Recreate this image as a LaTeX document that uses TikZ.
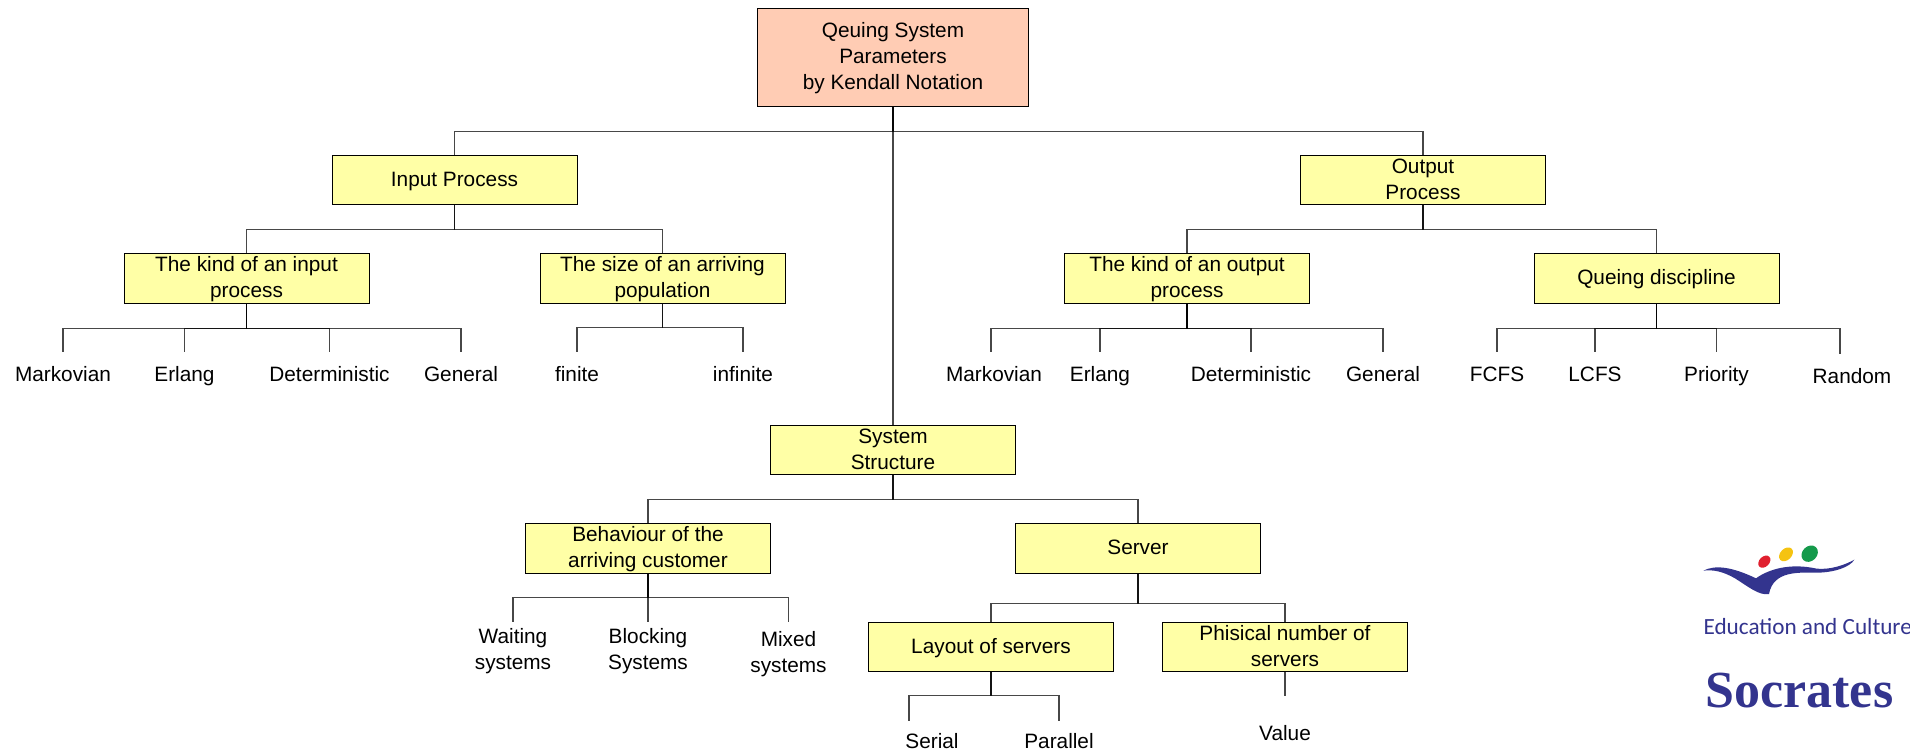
\documentclass[tikz,border=0pt]{standalone}
\usepackage{fontspec}
\setmainfont{Liberation Sans}
\newfontfamily\logofont{Carlito}
\newfontfamily\socratesfont{Liberation Serif}
\definecolor{boxyellow}{RGB}{255,255,166}
\definecolor{boxsalmon}{RGB}{255,204,180}
\definecolor{logoblue}{RGB}{51,52,142}
\definecolor{logored}{RGB}{224,32,47}
\definecolor{logoyellow}{RGB}{245,195,17}
\definecolor{logogreen}{RGB}{21,154,75}
\newcommand{\boxstrut}{\rule[-4pt]{0pt}{17.3pt}}
\tikzset{every picture/.style={line width=0.75pt},
	textfont/.style={font=\fontsize{15.6}{19.5}\selectfont},
	parbox/.style={textfont,draw=black,fill=boxyellow,inner sep=0pt,align=center,minimum width=183.75pt,minimum height=36.9pt},
	rootbox/.style={parbox,fill=boxsalmon,minimum width=202.9pt,minimum height=74.2pt},
	leaf/.style={textfont,anchor=north,inner xsep=0pt,inner ysep=10.4pt,text height=11.2pt,text depth=3.3pt},
	leaftwo/.style={textfont,anchor=north,inner xsep=0pt,inner ysep=4.5pt,align=center},
	link/.style={draw=black,line width=0.85pt,opacity=0.72}}

\begin{document}
\begin{tikzpicture}[x=0.75pt,y=0.75pt,yscale=-1,xscale=1]
	\useasboundingbox (0,0) rectangle (1910,752);

	% Boxes
	\node [rootbox] (root) at (893,57.5) {Qeuing System\boxstrut\\Parameters\\by Kendall Notation\boxstrut};
	\node [parbox] (input) at (454.5,180) {\boxstrut Input Process};
	\node [parbox] (output) at (1423,180) {\boxstrut Output\\Process\boxstrut};
	\node [parbox] (system) at (893,450) {\boxstrut System\\Structure\boxstrut};
	\node [parbox] (kindin) at (246.5,278.5) {\boxstrut The kind of an input\\process\boxstrut};
	\node [parbox] (sizein) at (662.5,278.5) {\boxstrut The size of an arriving\\population\boxstrut};
	\node [parbox] (kindout) at (1187,278.5) {\boxstrut The kind of an output\\process\boxstrut};
	\node [parbox] (queing) at (1656.5,278.5) {\boxstrut Queing discipline};
	\node [parbox] (behaviour) at (648,548.5) {\boxstrut Behaviour of the\\arriving customer\boxstrut};
	\node [parbox] (server) at (1138,548.5) {\boxstrut Server};
	\node [parbox] (layout) at (991,647) {\boxstrut Layout of servers};
	\node [parbox] (phisical) at (1285,647) {\boxstrut Phisical number of\\servers\boxstrut};

	% Text Node
	\node [leaf] (markovin) at (63,352) {Markovian};
	\node [leaf] (erlangin) at (184.5,352) {Erlang};
	\node [leaf] (detin) at (329.5,352) {Deterministic};
	\node [leaf] (genin) at (461,352) {General};
	\node [leaf] (finite) at (577,352) {finite};
	\node [leaf] (infinite) at (743,352) {infinite};
	\node [leaf] (markovout) at (994,352) {Markovian};
	\node [leaf] (erlangout) at (1100,352) {Erlang};
	\node [leaf] (detout) at (1251,352) {Deterministic};
	\node [leaf] (genout) at (1383,352) {General};
	\node [leaf] (fcfs) at (1497,352) {FCFS};
	\node [leaf] (lcfs) at (1595,352) {LCFS};
	\node [leaf] (priority) at (1716.5,352) {Priority};
	\node [leaf] (random) at (1852,354) {Random};
	\node [leaftwo] (waiting) at (513,622) {Waiting\\systems};
	\node [leaftwo] (blocking) at (648,622) {Blocking\\Systems};
	\node [leaftwo,inner ysep=6.5pt] (mixed) at (788.5,622) {Mixed\\systems};
	\node [leaf,inner ysep=9.4pt] (serial) at (932,721) {Serial};
	\node [leaf,inner ysep=9.4pt] (parallel) at (1059,721) {Parallel};
	\node [leaf,inner ysep=21.7pt] (value) at (1285,696) {Value};

	% Free ends
	\coordinate (markovoutend) at (991,352);
	\coordinate (randomend) at (1840,354);
	\coordinate (serialend) at (909,721);

	%Straight Lines
	\draw [link] (root.south) -- (system.north);
	\draw [link] (root.south) -- ++(0,24) -| (input.north);
	\draw [link] (root.south) -- ++(0,24) -| (output.north);
	\draw [link] (input.south) -- ++(0,24) -| (kindin.north);
	\draw [link] (input.south) -- ++(0,24) -| (sizein.north);
	\draw [link] (output.south) -- ++(0,24) -| (kindout.north);
	\draw [link] (output.south) -- ++(0,24) -| (queing.north);
	\draw [link] (kindin.south) -- ++(0,25) -| (markovin.north);
	\draw [link] (kindin.south) -- ++(0,25) -| (erlangin.north);
	\draw [link] (kindin.south) -- ++(0,25) -| (detin.north);
	\draw [link] (kindin.south) -- ++(0,25) -| (genin.north);
	\draw [link] (sizein.south) -- ++(0,24) -| (finite.north);
	\draw [link] (sizein.south) -- ++(0,24) -| (infinite.north);
	\draw [link] (kindout.south) -- ++(0,25) -| (markovoutend);
	\draw [link] (kindout.south) -- ++(0,25) -| (erlangout.north);
	\draw [link] (kindout.south) -- ++(0,25) -| (detout.north);
	\draw [link] (kindout.south) -- ++(0,25) -| (genout.north);
	\draw [link] (queing.south) -- ++(0,25) -| (fcfs.north);
	\draw [link] (queing.south) -- ++(0,25) -| (lcfs.north);
	\draw [link] (queing.south) -- ++(0,25) -| (priority.north);
	\draw [link] (queing.south) -- ++(0,25) -| (randomend);
	\draw [link] (system.south) -- ++(0,24.5) -| (behaviour.north);
	\draw [link] (system.south) -- ++(0,24.5) -| (server.north);
	\draw [link] (behaviour.south) -- ++(0,24) -| (waiting.north);
	\draw [link] (behaviour.south) -- (blocking.north);
	\draw [link] (behaviour.south) -- ++(0,24) -| (mixed.north);
	\draw [link] (server.south) -- ++(0,30) -| (layout.north);
	\draw [link] (server.south) -- ++(0,30) -| (phisical.north);
	\draw [link] (layout.south) -- ++(0,23) -| (serialend);
	\draw [link] (layout.south) -- ++(0,23) -| (parallel.north);
	\draw [link] (phisical.south) -- (value.north);

	%Shape: Logo
	\begin{scope}[shift={(1660,520)},x=0.25pt,y=0.25pt]
		\fill [logoblue] (130,152) .. controls (165,134) and (215,140) .. (288,175) .. controls (325,148) and (390,128) .. (470,146) .. controls (510,150) and (555,135) .. (583,119) .. controls (570,142) and (520,158) .. (470,158) .. controls (420,158) and (340,150) .. (327,222) .. controls (298,228) and (265,200) .. (225,175) .. controls (190,155) and (160,148) .. (130,152) -- cycle;
		\fill [logored,rotate around={-45:(313,125)}] (313,125) ellipse [x radius=21, y radius=15];
		\fill [logoyellow,rotate around={-45:(378,103)}] (378,103) ellipse [x radius=24, y radius=17];
		\fill [logogreen,rotate around={-45:(449,101)}] (449,101) ellipse [x radius=27, y radius=22];
	\end{scope}
	\node [font=\logofont\fontsize{17.4}{20}\selectfont,text=logoblue,anchor=base west,inner sep=0pt] (education) at (1703,634) {Education and Culture};
	\node [font=\socratesfont\bfseries\fontsize{39}{44}\selectfont,text=logoblue,anchor=base west,inner sep=0pt] (socrates) at (1705,707) {Socrates};

\end{tikzpicture}
\end{document}
